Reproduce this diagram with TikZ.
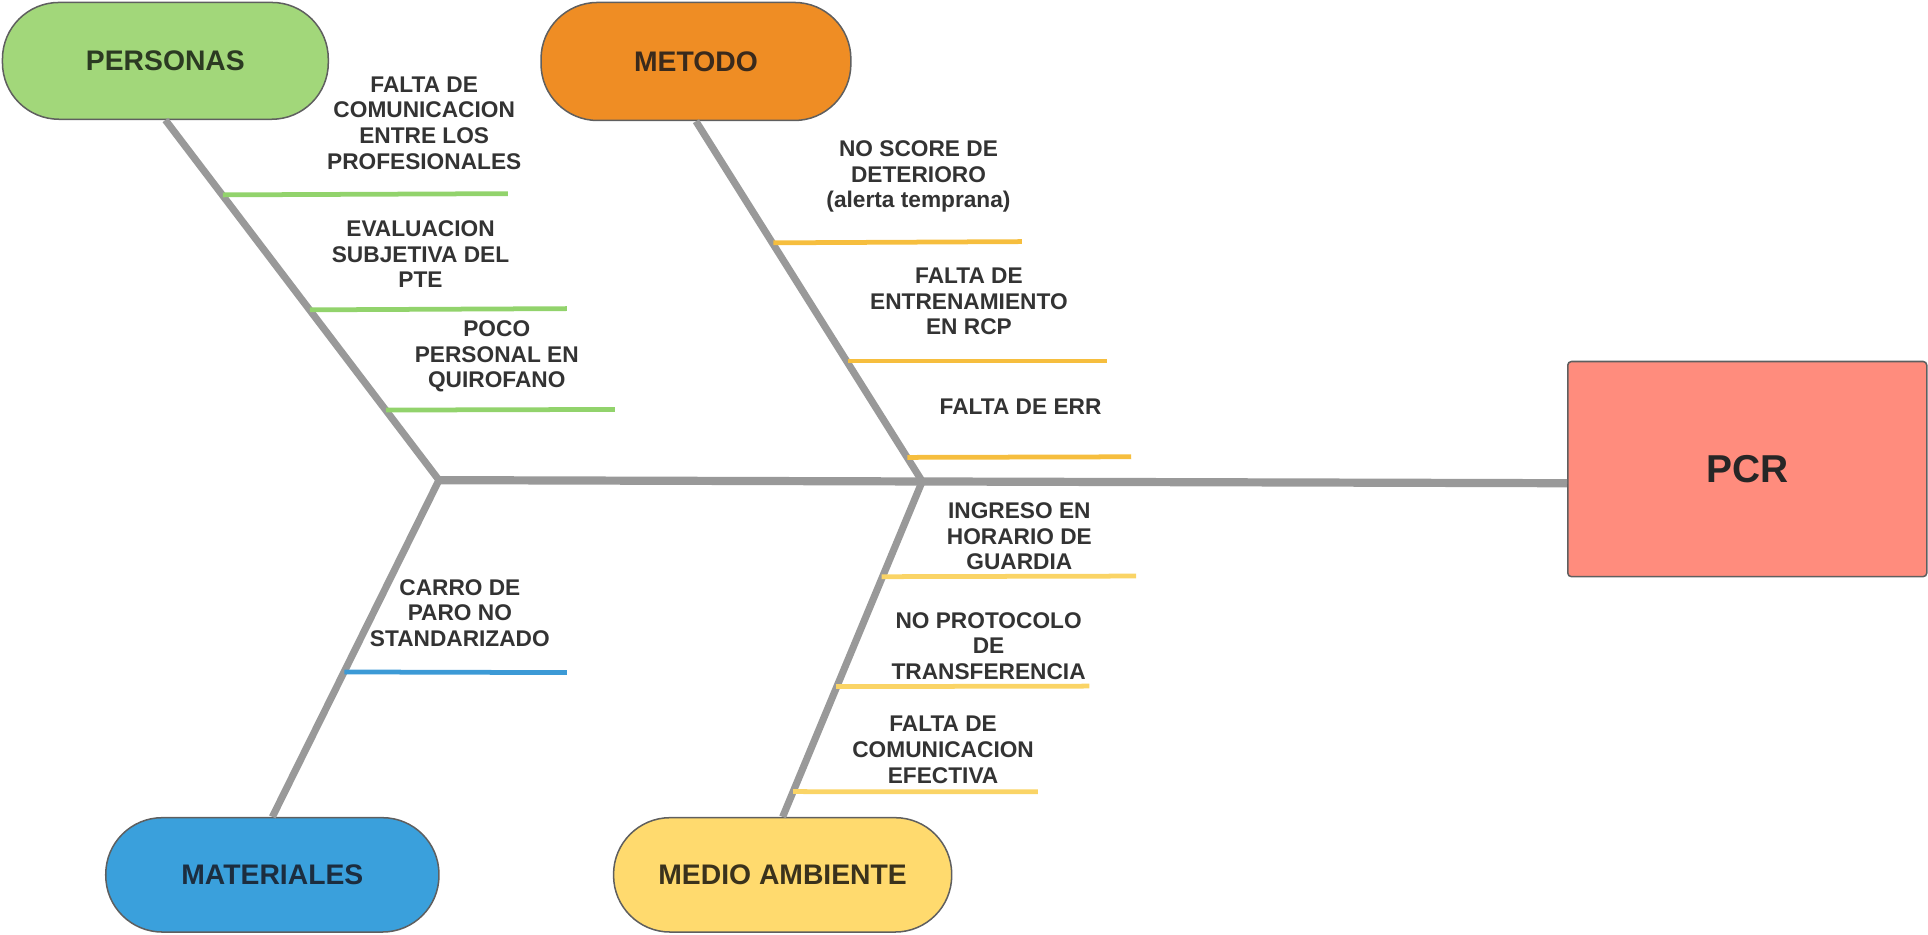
\documentclass[tikz,border=0pt]{standalone}
\usepackage{fontspec}
\setmainfont{Liberation Sans}
\definecolor{cPer}{HTML}{A2D77A}
\definecolor{cMet}{HTML}{EF8D24}
\definecolor{cMat}{HTML}{3AA0DC}
\definecolor{cMed}{HTML}{FFDA6E}
\definecolor{cPcr}{HTML}{FF8C7D}
\definecolor{tPer}{HTML}{2B3A22}
\definecolor{tMet}{HTML}{3A2A1C}
\definecolor{tMat}{HTML}{1C2D3F}
\definecolor{tMed}{HTML}{3A321C}
\definecolor{tTxt}{HTML}{333333}
\definecolor{bgrey}{HTML}{5F5F5F}
\definecolor{bone}{HTML}{999999}
\definecolor{rGreen}{HTML}{92D36C}
\definecolor{rGold}{HTML}{F6BE3E}
\definecolor{rBlue}{HTML}{3C9AD6}
\definecolor{rYel}{HTML}{FAD466}
\begin{document}
\begin{tikzpicture}[x=1cm,y=-1cm,
  pill/.style={draw=bgrey, line width=0.35pt, rounded corners=0.46cm, inner sep=0pt,
    font=\fontsize{6.55}{7.8}\selectfont\bfseries},
  bonel/.style={draw=bone, line width=1.65pt},
  spinel/.style={draw=bone, line width=1.9pt},
  rib/.style={line width=1.1pt},
  lbl/.style={align=center, inner sep=0pt, text=tTxt,
    font=\fontsize{5.25}{5.92}\selectfont\bfseries}
]
\useasboundingbox (0,0) rectangle (15.68,7.60);

% category nodes
\node[pill, fill=cPer, text=tPer, minimum width=2.65cm, minimum height=0.95cm] (per) at (1.345,0.495) {PERSONAS};
\node[pill, fill=cMet, text=tMet, minimum width=2.52cm, minimum height=0.96cm] (met) at (5.66,0.50) {METODO};
\node[pill, fill=cMat, text=tMat, minimum width=2.71cm, minimum height=0.93cm] (mat) at (2.215,7.115) {MATERIALES};
\node[pill, fill=cMed, text=tMed, minimum width=2.75cm, minimum height=0.93cm] (med) at (6.365,7.115) {MEDIO AMBIENTE};
\node[draw=bgrey, line width=0.35pt, rounded corners=0.03cm, fill=cPcr, text=black!85,
  minimum width=2.92cm, minimum height=1.75cm, inner sep=0pt,
  font=\fontsize{9}{10.8}\selectfont\bfseries] (pcr) at (14.21,3.815) {PCR};

% junctions
\coordinate (j1) at (3.57,3.905);
\coordinate (j2) at (7.50,3.915);
\coordinate (pin) at ([yshift=-0.115cm]pcr.west);

% spine and bones
\draw[spinel] (j1) -- (pin);
\draw[bonel] (per.south) -- (j1);
\draw[bonel] (met.south) -- (j2);
\draw[bonel] (j1) -- (mat.north);
\draw[bonel] (j2) -- (med.north);

% ribs coordinates
\coordinate (p1a) at (1.812,1.585); \coordinate (p1b) at (4.13,1.575);
\coordinate (p2a) at (2.52,2.52);   \coordinate (p2b) at (4.61,2.51);
\coordinate (p3a) at (3.14,3.335);  \coordinate (p3b) at (5.00,3.33);
\coordinate (m1a) at (6.29,1.975);  \coordinate (m1b) at (8.31,1.965);
\coordinate (m2a) at (6.90,2.936);  \coordinate (m2b) at (9.00,2.936);
\coordinate (m3a) at (7.38,3.72);   \coordinate (m3b) at (9.20,3.715);
\coordinate (t1a) at (2.80,5.465);  \coordinate (t1b) at (4.61,5.47);
\coordinate (e1a) at (7.17,4.69);   \coordinate (e1b) at (9.24,4.685);
\coordinate (e2a) at (6.80,5.584);  \coordinate (e2b) at (8.86,5.58);
\coordinate (e3a) at (6.45,6.438);  \coordinate (e3b) at (8.44,6.44);

\draw[rib, rGreen] (p1a) -- (p1b);
\draw[rib, rGreen] (p2a) -- (p2b);
\draw[rib, rGreen] (p3a) -- (p3b);
\draw[rib, rGold] (m1a) -- (m1b);
\draw[rib, rGold] (m2a) -- (m2b);
\draw[rib, rGold] (m3a) -- (m3b);
\draw[rib, rBlue] (t1a) -- (t1b);
\draw[rib, rYel] (e1a) -- (e1b);
\draw[rib, rYel] (e2a) -- (e2b);
\draw[rib, rYel] (e3a) -- (e3b);

% labels
\node[lbl] (lp1) at (3.45,1.00) {FALTA DE\\COMUNICACION\\ENTRE LOS\\PROFESIONALES};
\node[lbl] (lp2) at (3.42,2.068) {EVALUACION\\SUBJETIVA DEL\\PTE};
\node[lbl] (lp3) at (4.04,2.90) {POCO\\PERSONAL EN\\QUIROFANO};
\node[lbl] (lm1) at (7.47,1.437) {NO SCORE DE\\DETERIORO\\(alerta temprana)};
\node[lbl] (lm2) at (7.88,2.453) {FALTA DE\\ENTRENAMIENTO\\EN RCP};
\node[lbl] (lm3) at (8.30,3.31) {FALTA DE ERR};
\node[lbl] (lt1) at (3.74,4.985) {CARRO DE\\PARO NO\\STANDARIZADO};
\node[lbl] (le1) at (8.29,4.364) {INGRESO EN\\HORARIO DE\\GUARDIA};
\node[lbl] (le2) at (8.04,5.255) {NO PROTOCOLO\\DE\\TRANSFERENCIA};
\node[lbl] (le3) at (7.67,6.098) {FALTA DE\\COMUNICACION\\EFECTIVA};
\end{tikzpicture}
\end{document}
